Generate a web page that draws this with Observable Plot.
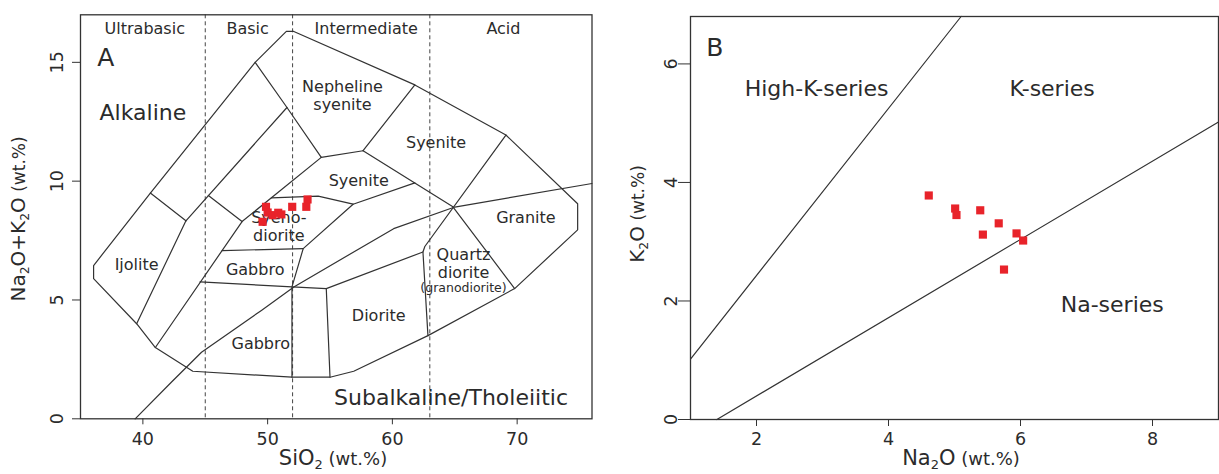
<!DOCTYPE html>
<html><head><meta charset="utf-8">
<script src="https://cdn.jsdelivr.net/npm/d3@7"></script>
<script src="https://cdn.jsdelivr.net/npm/@observablehq/plot@0.6"></script>
<style>
body{margin:0;background:#fff;}
#wrap{position:relative;width:1219px;height:474px;overflow:hidden;background:#fff;}
#a,#b{position:absolute;top:0;}
#a{left:0;} #b{left:600px;}
</style></head><body><div id="wrap"><div id="a"></div><div id="b"></div></div>
<script>
// ---------- Panel A: TAS (SiO2 vs Na2O+K2O) ----------
const outerBoundary = [[51.5,16.3],[52.1,16.3],[61.8,14.05],[69.1,11.94],[74.85,9.05],[74.85,7.95],[69.8,5.48],[62.85,3.5],[56.9,2.0],[55.0,1.75],[51.95,1.75],[44.0,2.0],[41.0,3.0],[39.5,4.0],[36.05,5.9],[36.05,6.45],[40.6,9.5],[49.0,15.0],[51.5,16.3]];
const ijoliteTop = [[40.6,9.5],[43.45,8.33]];
const ijoliteRight = [[43.45,8.33],[39.5,4.0]];
const foidLine1 = [[43.45,8.33],[51.55,13.1]];
const foidLine2 = [[49.0,15.0],[51.55,13.1],[54.3,11.0]];
const shortLine = [[45.25,9.4],[47.95,8.3]];
const foidGabbroLine = [[41.0,3.0],[47.95,8.3],[54.3,11.0]];
const syenodioriteTop = [[50.3,9.3],[54.05,9.37],[56.85,9.03],[61.8,9.93]];
const syenodioriteRight = [[56.85,9.03],[52.85,7.16],[51.95,5.55],[51.95,1.75]];
const syenodioriteBase = [[46.35,7.08],[52.85,7.16]];
const gabbroTop = [[44.58,5.76],[51.95,5.55],[54.7,5.48]];
const dioriteLeft = [[54.7,5.48],[55.0,1.75]];
const dioriteTop = [[54.7,5.48],[62.45,7.02]];
const quartzDioriteLeft = [[62.85,3.5],[62.45,7.02],[62.6,7.25],[69.1,11.94]];
const syeniteLeft = [[61.8,14.05],[57.65,11.28]];
const nephSyeniteBase = [[54.3,11.0],[57.65,11.28]];
const syeniteBase = [[57.65,11.28],[64.85,8.92],[69.8,5.48]];
const alkalineDivide = [[39.38,0],[42.3,1.55],[44.7,2.8],[49.5,4.56],[52.1,5.55],[60.1,8.0],[65.0,8.91],[76,9.9]];

const silicaDivides = [45, 52, 63];
const zoneNames = ["Ultrabasic", "Basic", "Intermediate", "Acid"];
const zoneX = [40.15, 48.4, 57.9, 68.9];
const zoneY = [16.4, 16.4, 16.4, 16.4];

const rockNames = ["Nepheline\nsyenite", "Syenite", "Syenite", "Syeno-\ndiorite", "Ijolite", "Gabbro", "Quartz\ndiorite", "Granite", "Diorite", "Gabbro"];
const rockX = [56.0, 63.5, 57.3, 50.9, 39.5, 49.0, 65.7, 70.7, 58.9, 49.45];
const rockY = [13.6, 11.65, 10.05, 8.1, 6.5, 6.3, 6.55, 8.49, 4.36, 3.18];
const smallNames = ["(granodiorite)"];
const smallX = [65.7];
const smallY = [5.5];
const seriesNamesA = ["Alkaline", "Subalkaline/Tholeiitic"];
const seriesXA = [40.0, 64.7];
const seriesYA = [12.85, 0.86];
const panelTagA = ["A"];
const tagXA = [36.35];
const tagYA = [15.2];

const sio2 = [49.87, 50.0, 50.4, 50.85, 51.1, 49.6, 51.97, 53.2, 53.1];
const alkali = [8.92, 8.68, 8.57, 8.67, 8.6, 8.29, 8.92, 9.23, 8.92];
const ticksSiO2 = [40, 50, 60, 70];
const ticksAlkali = [0, 5, 10, 15];

// ---------- Panel B: Na2O vs K2O ----------
const highKBoundary = [[1, 1.02], [5.1, 6.8]];
const naBoundary = [[1.4, 0], [9, 5.02]];
const na2o = [4.61, 5.01, 5.03, 5.39, 5.67, 5.43, 5.94, 6.04, 5.75];
const k2o = [3.78, 3.56, 3.45, 3.53, 3.31, 3.12, 3.14, 3.02, 2.53];
const seriesNamesB = ["High-K-series", "K-series", "Na-series"];
const seriesXB = [2.91, 6.48, 7.39];
const seriesYB = [5.58, 5.58, 1.94];
const panelTagB = ["B"];
const tagXB = [1.24];
const tagYB = [6.27];
const ticksNa2O = [2, 4, 6, 8];
const ticksK2O = [0, 2, 4, 6];

// ---------- helpers ----------
const FONT = "DejaVu Sans, Liberation Sans, Arial, sans-serif";
const INK = "#2b2b2b";
const RED = "#e8232a";
const intFmt = d => String(d);

function segTable(named) {
  const rows = [];
  for (const [id, pts] of Object.entries(named)) pts.forEach(([x, y]) => rows.push({id, x, y}));
  return rows;
}
function labelTable(names, xs, ys) { return names.map((name, i) => ({name, x: xs[i], y: ys[i]})); }

const boundaryRows = segTable({outerBoundary, ijoliteTop, ijoliteRight, foidLine1, foidLine2, shortLine, foidGabbroLine,
  syenodioriteTop, syenodioriteRight, syenodioriteBase, gabbroTop, dioriteLeft, dioriteTop, quartzDioriteLeft,
  syeniteLeft, nephSyeniteBase, syeniteBase, alkalineDivide});
const samplesA = sio2.map((x, i) => ({x, y: alkali[i]}));

const plotA = Plot.plot({
  width: 600, height: 474,
  marginLeft: 80, marginRight: 8.5, marginTop: 14.3, marginBottom: 55.7,
  x: {domain: [35, 76]}, y: {domain: [0, 17]},
  style: {fontFamily: FONT, fontSize: "16px", color: INK, background: "white", overflow: "visible"},
  marks: [
    Plot.ruleX(silicaDivides, {stroke: "#444", strokeWidth: 1, strokeDasharray: "4,3"}),
    Plot.line(boundaryRows, {x: "x", y: "y", z: "id", stroke: "#333", strokeWidth: 1.2, curve: "linear"}),
    Plot.text(labelTable(zoneNames, zoneX, zoneY), {x: "x", y: "y", text: "name", fontSize: 16, fill: INK}),
    Plot.text(labelTable(rockNames, rockX, rockY), {x: "x", y: "y", text: "name", fontSize: 16, lineHeight: 1.12, fill: INK}),
    Plot.text(labelTable(smallNames, smallX, smallY), {x: "x", y: "y", text: "name", fontSize: 12.5, fill: INK}),
    Plot.text(labelTable(seriesNamesA, seriesXA, seriesYA), {x: "x", y: "y", text: "name", fontSize: 22, fill: INK}),
    Plot.text(labelTable(panelTagA, tagXA, tagYA), {x: "x", y: "y", text: "name", fontSize: 25, textAnchor: "start", fill: INK}),
    Plot.dot(samplesA, {x: "x", y: "y", symbol: "square", r: 4.6, fill: RED, stroke: "none"}),
    Plot.frame({stroke: "#333", strokeWidth: 1.3}),
    Plot.axisX({ticks: ticksSiO2, tickFormat: intFmt, tickSize: 6, tickPadding: 8, fontSize: 17.5, label: null, stroke: "#333"}),
    Plot.axisY({ticks: ticksAlkali, tickFormat: intFmt, tickSize: 8, tickPadding: 10, tickRotate: -90, fontSize: 17.5, label: null, stroke: "#333"})
  ]
});

const samplesB = na2o.map((x, i) => ({x, y: k2o[i]}));
const lineRowsB = segTable({highKBoundary, naBoundary});
const plotB = Plot.plot({
  width: 619, height: 474,
  marginLeft: 90, marginRight: 1, marginTop: 16, marginBottom: 55,
  x: {domain: [1, 9]}, y: {domain: [0, 6.8]},
  style: {fontFamily: FONT, fontSize: "16px", color: INK, background: "white", overflow: "visible"},
  marks: [
    Plot.line(lineRowsB, {x: "x", y: "y", z: "id", stroke: "#333", strokeWidth: 1.2}),
    Plot.text(labelTable(seriesNamesB, seriesXB, seriesYB), {x: "x", y: "y", text: "name", fontSize: 22, fill: INK}),
    Plot.text(labelTable(panelTagB, tagXB, tagYB), {x: "x", y: "y", text: "name", fontSize: 25, textAnchor: "start", fill: INK}),
    Plot.dot(samplesB, {x: "x", y: "y", symbol: "square", r: 4.6, fill: RED, stroke: "none"}),
    Plot.frame({stroke: "#333", strokeWidth: 1.3}),
    Plot.axisX({ticks: ticksNa2O, tickFormat: intFmt, tickSize: 7, tickPadding: 6, fontSize: 17.5, label: null, stroke: "#333"}),
    Plot.axisY({ticks: ticksK2O, tickFormat: intFmt, tickSize: 12, tickPadding: 2, tickRotate: -90, fontSize: 17.5, label: null, stroke: "#333"})
  ]
});

document.getElementById("a").appendChild(plotA);
document.getElementById("b").appendChild(plotB);

// axis titles with subscripts
function axisTitle(svgNode, x, y, rotate, parts, big, small) {
  const t = d3.select(svgNode).append("text")
    .attr("transform", `translate(${x},${y}) rotate(${rotate})`)
    .attr("text-anchor", "middle")
    .attr("fill", INK)
    .style("font-family", FONT)
    .style("font-size", big + "px");
  let shift = 0;
  for (const [txt, kind] of parts) {
    const ts = t.append("tspan").text(txt);
    if (kind === "sub") { ts.attr("dy", 4 - shift).style("font-size", (big * 0.62) + "px"); shift = 4; }
    else { ts.attr("dy", -shift); shift = 0; if (kind === "paren") ts.style("font-size", small + "px"); }
  }
}
axisTitle(plotA, 25, 219, -90, [["Na", "n"], ["2", "sub"], ["O+K", "n"], ["2", "sub"], ["O", "n"], [" (wt.%)", "paren"]], 20, 17);
axisTitle(plotA, 333, 465, 0, [["SiO", "n"], ["2", "sub"], [" (wt.%)", "paren"]], 21, 18);
axisTitle(plotB, 44, 214, -90, [["K", "n"], ["2", "sub"], ["O", "n"], [" (wt.%)", "paren"]], 20, 17);
axisTitle(plotB, 361, 465, 0, [["Na", "n"], ["2", "sub"], ["O", "n"], [" (wt.%)", "paren"]], 21, 18);
</script>
</body></html>
